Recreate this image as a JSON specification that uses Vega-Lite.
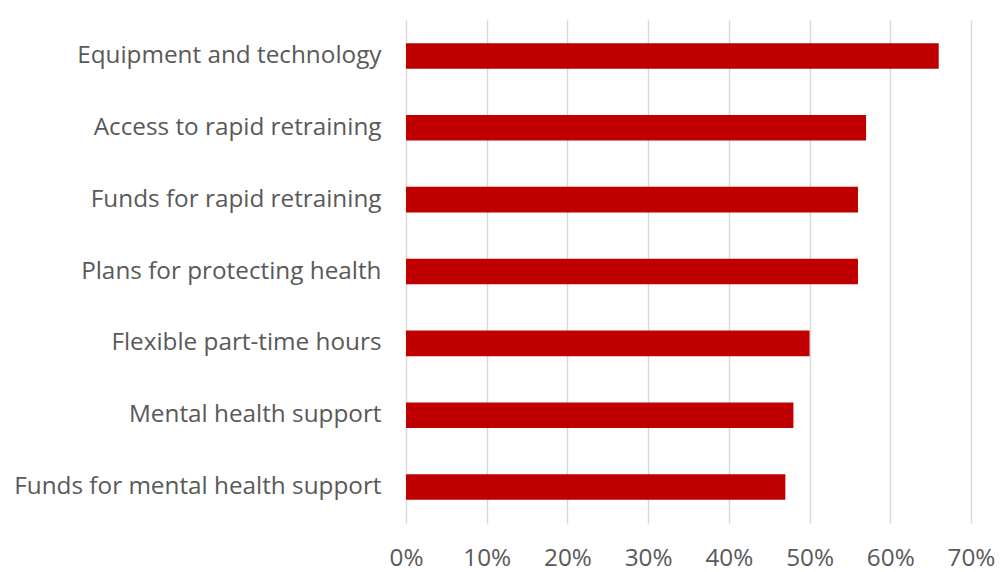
{
  "$schema": "https://vega.github.io/schema/vega-lite/v6.json",
  "autosize": {"type": "none"},
  "padding": {"left": 406, "top": 20, "right": 37, "bottom": 49},
  "width": 565,
  "height": 503,
  "background": "white",
  "config": {"view": {"stroke": null}, "font": "Open Sans"},
  "data": {"values": [
    {"item": "Equipment and technology", "value": 0.66},
    {"item": "Access to rapid retraining", "value": 0.57},
    {"item": "Funds for rapid retraining", "value": 0.56},
    {"item": "Plans for protecting health", "value": 0.56},
    {"item": "Flexible part-time hours", "value": 0.50},
    {"item": "Mental health support", "value": 0.48},
    {"item": "Funds for mental health support", "value": 0.47}
  ]},
  "mark": {"type": "bar", "color": "#C00000"},
  "encoding": {
    "y": {
      "field": "item", "type": "nominal", "sort": null,
      "scale": {"paddingInner": 0.644, "paddingOuter": 0.322},
      "axis": {"title": null, "domain": false, "ticks": false, "grid": false, "labelFont": "Open Sans", "labelFontSize": 24.3, "labelColor": "#595959", "labelPadding": 25, "labelLimit": 500}
    },
    "x": {
      "field": "value", "type": "quantitative",
      "scale": {"domain": [0, 0.7]},
      "axis": {"title": null, "format": ".0%", "values": [0, 0.1, 0.2, 0.3, 0.4, 0.5, 0.6, 0.7], "domain": false, "ticks": false, "grid": true, "gridColor": "#d9d9d9", "gridWidth": 1.5, "labelFlush": false, "labelFont": "Open Sans", "labelFontSize": 24.3, "labelColor": "#595959", "labelPadding": 23}
    }
  }
}
